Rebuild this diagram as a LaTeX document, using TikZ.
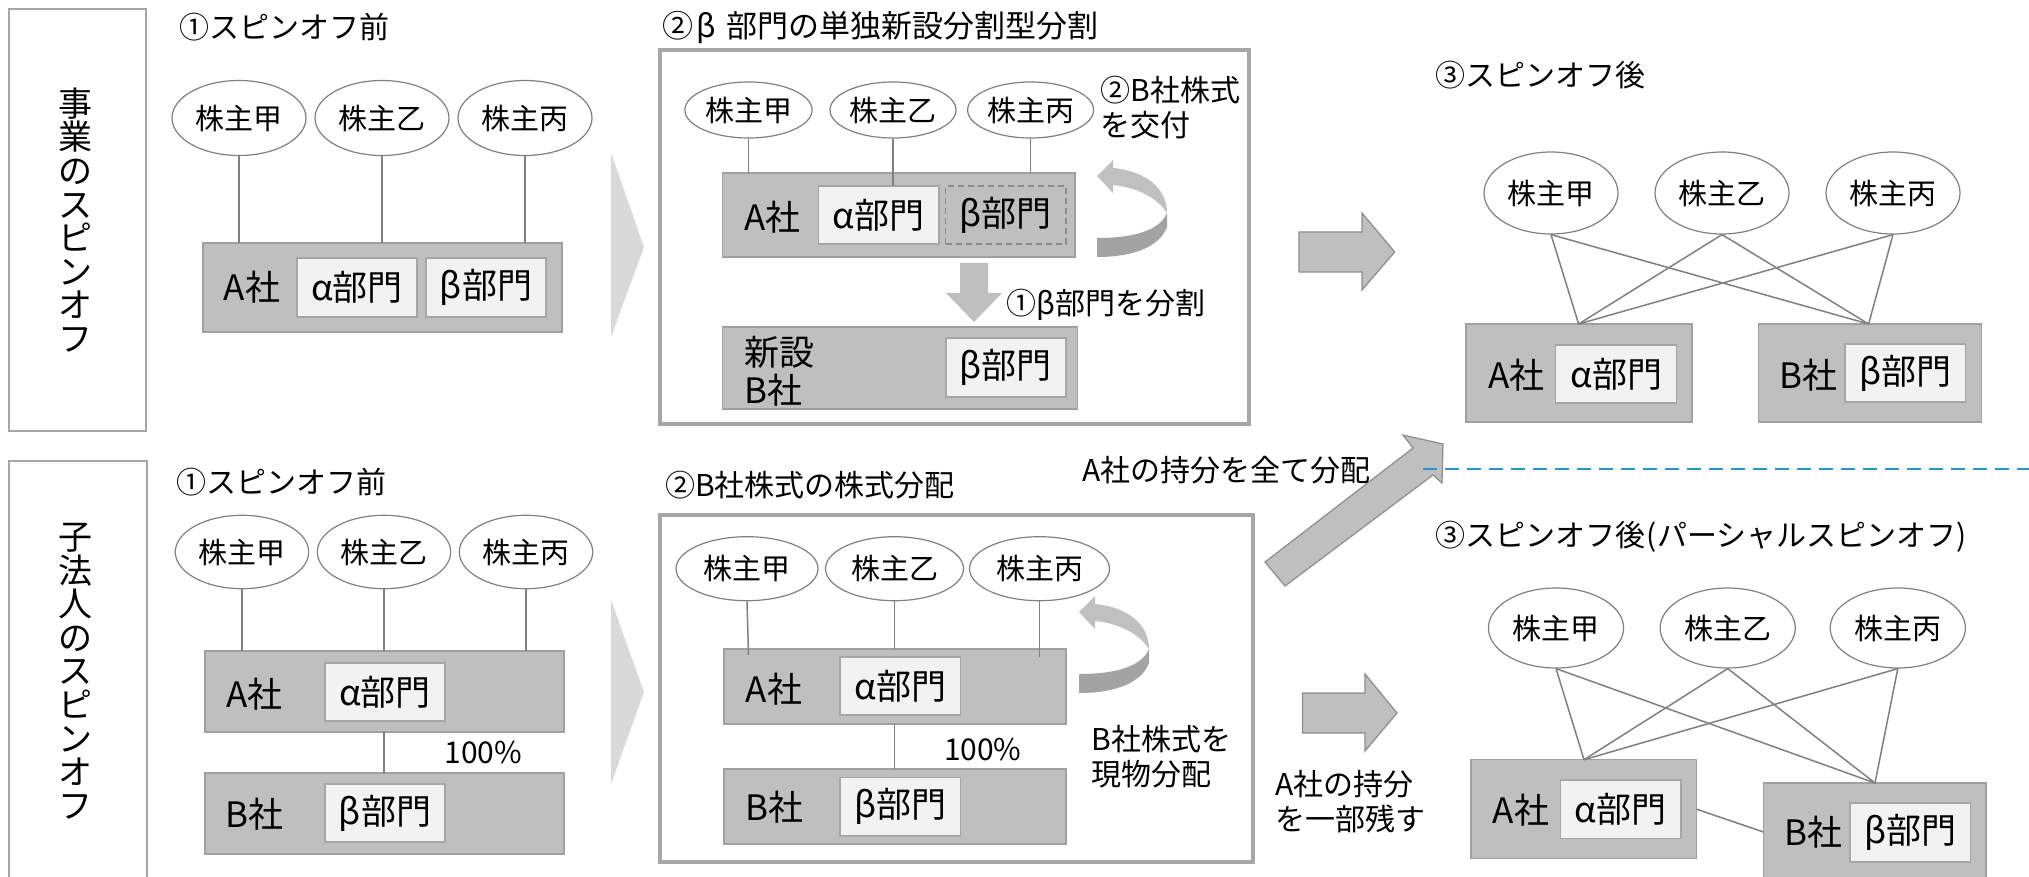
\documentclass[tikz,border=0pt]{standalone}
\usepackage{fontspec}
\setmainfont{Noto Sans CJK JP}
\usetikzlibrary{shapes.geometric,fit}
\definecolor{boxfill}{HTML}{BFBFBF}
\definecolor{boxline}{HTML}{A0A0A0}
\definecolor{innerfill}{HTML}{F2F2F2}
\definecolor{innerline}{HTML}{A6A6A6}
\definecolor{linegray}{HTML}{808080}
\definecolor{dashgray}{HTML}{8C8C8C}
\definecolor{framegray}{HTML}{A6A6A6}
\definecolor{chevgray}{HTML}{D9D9D9}
\definecolor{arrowfill}{HTML}{BFBFBF}
\definecolor{arrowline}{HTML}{8C8C8C}
\definecolor{curvelight}{HTML}{C0C0C0}
\definecolor{curvedark}{HTML}{A3A3A3}
\definecolor{dashblue}{HTML}{2A93C9}
\newcommand\fT{\fontsize{15pt}{18pt}\selectfont}
\newcommand\fE{\fontsize{14.5pt}{17pt}\selectfont}
\newcommand\fB{\fontsize{17.5pt}{19pt}\selectfont}
\newcommand\fN{\fontsize{15pt}{17.5pt}\selectfont}
\newcommand\fV{\fontsize{17pt}{16.8pt}\selectfont}
\tikzset{
  cobox/.style={draw=boxline,fill=boxfill,line width=0.75pt,inner sep=0pt,outer sep=0pt},
  dept/.style={draw=innerline,fill=innerfill,line width=0.75pt,inner sep=0pt,outer sep=0pt},
  deptdash/.style={draw=dashgray,dash pattern=on 3pt off 2pt,line width=0.6pt,inner sep=0pt,outer sep=0pt},
  holder/.style={ellipse,draw=linegray,fill=white,line width=0.6pt,inner sep=0pt,font=\fE},
  conn/.style={draw=linegray,line width=0.75pt},
  frm/.style={draw=framegray,line width=2pt,inner sep=0pt,outer sep=0pt},
  sidebox/.style={draw=innerline,line width=0.75pt,inner sep=0pt,outer sep=0pt},
  ttl/.style={inner sep=0pt,anchor=west,font=\fT},
  note/.style={inner sep=0pt,anchor=west,align=left,font=\fN},
  co/.style={inner sep=0pt,font=\fB},
  vert/.style={inner sep=0pt,align=center,font=\fV},
  blockarrow/.style={fill=arrowfill,draw=arrowline,line width=0.6pt},
  chevron/.style={fill=chevgray},
}
\newcommand\curvarrow{%
  \fill[curvedark] (1097,238) .. controls (1135,238) and (1160,230) .. (1167,213)
     -- (1167,227) .. controls (1160,246) and (1135,257) .. (1097,257) -- cycle;
  \fill[curvelight] (1113,168) .. controls (1145,171) and (1167,188) .. (1167,213)
     .. controls (1160,202) and (1143,188) .. (1113,185) -- (1113,193) -- (1097,176) -- (1113,160) -- cycle;
}
\begin{document}
\begin{tikzpicture}[x=0.5pt,y=-0.5pt]
\useasboundingbox (0,0) rectangle (2029,877);
\clip (0,0) rectangle (2029,877);
\fill[white] (0,0) rectangle (2029,877);

% ---------- left side labels ----------
\node[sidebox,fit={(9,9) (146,431)}] (side1) {};
\node[vert] (side1t) at (75,220) {事\\業\\の\\ス\\ピ\\ン\\オ\\フ};
\node[sidebox,fit={(9,461) (147,900)}] (side2) {};
\node[vert] (side2t) at (75,671) {子\\法\\人\\の\\ス\\ピ\\ン\\オ\\フ};

% ---------- section 1 top ----------
\node[ttl] (t11) at (179,27) {①スピンオフ前};
\node[holder,minimum width=67pt,minimum height=37.5pt] (e11) at (239,118) {株主甲};
\node[holder,minimum width=67pt,minimum height=37.5pt] (e12) at (382,118) {株主乙};
\node[holder,minimum width=67pt,minimum height=37.5pt] (e13) at (525,118) {株主丙};
\node[cobox,fit={(203,243) (562,332)}] (A1) {};
\node[co] (A1t) at (252,287) {A社};
\node[dept,fit={(297,258) (417,317)}] (a1) {};
\node[co] (a1t) at (a1) {α部門};
\node[dept,fit={(426,258) (546,317)}] (b1) {};
\node[co] (b1t) at (b1) {β部門};
\draw[conn] (e11.south) -- (e11.south |- A1.north);
\draw[conn] (e12.south) -- (e12.south |- A1.north);
\draw[conn] (e13.south) -- (e13.south |- A1.north);
\fill[chevron] (611,153) -- (644,247) -- (611,337) -- cycle;

% ---------- section 2 top ----------
\node[ttl,font=\fontsize{15.5pt}{18pt}\selectfont] (t21) at (662,27) {②\hspace{0.1em}β\hspace{0.35em}部門の単独新設分割型分割};
\node[frm,fit={(660,50) (1249,424)}] (F2) {};
\node[holder,minimum width=63.6pt,minimum height=28pt] (e21) at (748.5,110) {株主甲};
\node[holder,minimum width=63pt,minimum height=28pt] (e22) at (893,110) {株主乙};
\node[holder,minimum width=63pt,minimum height=28pt] (e23) at (1030.6,110) {株主丙};
\node[cobox,fit={(722.6,173) (1075,257)}] (A2) {};
\node[co] (A2t) at (772.6,217) {A社};
\node[dept,fit={(818.6,186) (939,244)}] (a2) {};
\node[co] (a2t) at (a2) {α部門};
\node[deptdash,fit={(945.8,186) (1066,244)}] (b2) {};
\node[co] (b2t) at (b2) {β部門};
\draw[conn] (e21.south) -- (e21.south |- A2.north);
\draw[conn] (e22.south) -- (e22.south |- a2.north);
\draw[conn] (e23.south) -- (e23.south |- A2.north);
\curvarrow
\node[note] (n21) at (1100,107.5) {②B社株式\\を交付};
\fill[arrowfill] (960,263) -- (988,263) -- (988,293) -- (1002,293) -- (974,322) -- (946,293) -- (960,293) -- cycle;
\node[note] (n22) at (1006,305) {①β部門を分割};
\node[cobox,fit={(722.6,327) (1077.5,409)}] (NB2) {};
\node[inner sep=0pt,anchor=west,align=left,font=\fontsize{17.5pt}{19pt}\selectfont] (NB2t) at (743.6,371) {新設\\B社};
\node[dept,fit={(945.8,338) (1066,397)}] (b22) {};
\node[co] (b22t) at (b22) {β部門};

% ---------- arrow to section 3 top ----------
\draw[blockarrow] (1299,232) -- (1362,232) -- (1362,213) -- (1394.7,252) -- (1362,290) -- (1362,272) -- (1299,272) -- cycle;

% ---------- section 3 top ----------
\node[ttl] (t31) at (1435,75) {③スピンオフ後};
\node[holder,minimum width=67pt,minimum height=41pt] (e31) at (1551,193) {株主甲};
\node[holder,minimum width=67pt,minimum height=41pt] (e32) at (1722,193) {株主乙};
\node[holder,minimum width=67pt,minimum height=41pt] (e33) at (1893,193) {株主丙};
\node[cobox,fit={(1466,324) (1692,422)}] (A3) {};
\node[co] (A3t) at (1516.5,375) {A社};
\node[dept,fit={(1555.7,345) (1676.6,403)}] (a3) {};
\node[co] (a3t) at (a3) {α部門};
\node[cobox,fit={(1758.7,324) (1981.4,422)}] (B3) {};
\node[co] (B3t) at (1808,375) {B社};
\node[dept,fit={(1845,344) (1965.6,402)}] (b3) {};
\node[co] (b3t) at (b3) {β部門};
\coordinate (pA3) at (1578.6,324);
\coordinate (pB3) at (1868.6,324);
\foreach \e in {e31,e32,e33}{
  \draw[conn] (\e.south) -- (pA3);
  \draw[conn] (\e.south) -- (pB3);
}

% ---------- middle: diagonal arrow and dashed line ----------
\draw[blockarrow] (1265,562) -- (1413,448) -- (1403,435) -- (1443,444) -- (1442,483) -- (1433,475) -- (1285,586) -- cycle;
\node[ttl,font=\fN] (mid) at (1082,470) {A社の持分を全て分配};
\coordinate (dl1) at (1423,469);
\coordinate (dl2) at (2035,469);
\draw[dashblue,line width=1pt,dash pattern=on 7pt off 4pt] (dl1) -- (dl2);

% ---------- section 1 bottom ----------
\node[ttl] (t41) at (176,482) {①スピンオフ前};
\node[holder,minimum width=66.7pt,minimum height=36.7pt] (e41) at (242,552) {株主甲};
\node[holder,minimum width=66.7pt,minimum height=36.7pt] (e42) at (384,552) {株主乙};
\node[holder,minimum width=66.7pt,minimum height=36.7pt] (e43) at (526,552) {株主丙};
\node[cobox,fit={(205,651) (564,732)}] (A4) {};
\node[co] (A4t) at (254.6,694) {A社};
\node[dept,fit={(325,663) (445,721)}] (a4) {};
\node[co] (a4t) at (a4) {α部門};
\node[cobox,fit={(205,773) (564,854)}] (B4) {};
\node[co] (B4t) at (254.6,814) {B社};
\node[dept,fit={(325,784) (445,842)}] (b4) {};
\node[co] (b4t) at (b4) {β部門};
\draw[conn] (e41.south) -- (e41.south |- A4.north);
\draw[conn] (e42.south) -- (e42.south |- A4.north);
\draw[conn] (e43.south) -- (e43.south |- A4.north);
\draw[conn] (e42.south |- A4.south) -- (e42.south |- B4.north);
\node[ttl,font=\fN] (p4) at (444,752) {100\%};
\fill[chevron] (611,600) -- (644,692) -- (611,784) -- cycle;

% ---------- section 2 bottom ----------
\node[ttl] (t51) at (664.6,485) {②B社株式の株式分配};
\node[frm,fit={(660,515) (1252.5,862)}] (F5) {};
\node[holder,minimum width=71pt,minimum height=32pt] (e51) at (747,568.7) {株主甲};
\node[holder,minimum width=69pt,minimum height=32pt] (e52) at (894.5,568.7) {株主乙};
\node[holder,minimum width=70pt,minimum height=32pt] (e53) at (1039.5,568.7) {株主丙};
\node[cobox,fit={(724,649) (1066,724)}] (A5) {};
\node[co] (A5t) at (774,688.7) {A社};
\node[dept,fit={(840,657) (960.5,715)}] (a5) {};
\node[co] (a5t) at (a5) {α部門};
\node[cobox,fit={(724,769) (1066,844)}] (B5) {};
\node[co] (B5t) at (774,807) {B社};
\node[dept,fit={(840,777.7) (960.5,836)}] (b5) {};
\node[co] (b5t) at (b5) {β部門};
\coordinate (q51) at (748.5,655);
\coordinate (q53) at (1039.5,657);
\draw[conn] (e51.south) -- (q51);
\draw[conn] (e52.south) -- (e52.south |- A5.north);
\draw[conn] (e53.south) -- (q53);
\draw[conn] (e52.south |- A5.south) -- (e52.south |- B5.north);
\node[ttl,font=\fN] (p5) at (943.6,749) {100\%};
\begin{scope}[shift={(-18,436)}]
\curvarrow
\end{scope}
\node[note] (n51) at (1091,757) {B社株式を\\現物分配};

% ---------- arrow to section 3 bottom ----------
\draw[blockarrow] (1302.5,693) -- (1365,693) -- (1365,674) -- (1397,713) -- (1365,751) -- (1365,733) -- (1302.5,733) -- cycle;
\node[note] (n61) at (1275,801.5) {A社の持分\\を一部残す};

% ---------- section 3 bottom ----------
\node[ttl] (t61) at (1435,537) {③スピンオフ後\hspace{0.05em}(パーシャルスピンオフ)};
\node[holder,minimum width=67.6pt,minimum height=40pt] (e61) at (1556,628) {株主甲};
\node[holder,minimum width=67.6pt,minimum height=40pt] (e62) at (1727.7,628) {株主乙};
\node[holder,minimum width=67.6pt,minimum height=40pt] (e63) at (1897.8,628) {株主丙};
\node[cobox,fit={(1471,759.7) (1696.6,858.7)}] (A6) {};
\node[co] (A6t) at (1521,809.7) {A社};
\node[dept,fit={(1560.5,780) (1681,838.7)}] (a6) {};
\node[co] (a6t) at (a6) {α部門};
\node[cobox,fit={(1763.5,783) (1986,900)}] (B6) {};
\node[co] (B6t) at (1813,832) {B社};
\node[dept,fit={(1850,803) (1970.7,862)}] (b6) {};
\node[co] (b6t) at (b6) {β部門};
\coordinate (pA6) at (1584,759.7);
\coordinate (pB6) at (1875,783);
\foreach \e in {e61,e62,e63}{
  \draw[conn] (\e.south) -- (pA6);
  \draw[conn] (\e.south) -- (pB6);
}
\draw[conn] (A6.east) -- ([yshift=-24.5pt]B6.north west);
\end{tikzpicture}
\end{document}
